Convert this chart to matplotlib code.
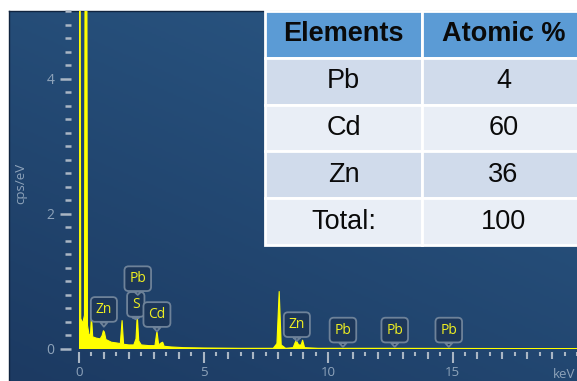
import numpy as np
import matplotlib.pyplot as plt
from matplotlib.colors import LinearSegmentedColormap
from matplotlib.ticker import MultipleLocator

# EDS spectrum (keV, cps/eV), peaks picked off the trace
energy = [0.00, 0.03, 0.07, 0.15, 0.22, 0.26, 0.30, 0.34, 0.40, 0.46, 0.50, 0.55,
          0.70, 0.85, 0.93, 0.98, 1.02, 1.08, 1.30, 1.50, 1.66, 1.73, 1.79, 2.00,
          2.20, 2.29, 2.34, 2.40, 2.50, 2.80, 3.05, 3.13, 3.20, 3.30, 3.36, 3.42,
          3.70, 4.20, 5.00, 6.50, 7.80, 7.95, 8.04, 8.12, 8.30, 8.60, 8.72, 8.82,
          8.92, 8.98, 9.06, 9.60, 12.0, 20.0]
cps = [0.00, 9.00, 0.45, 0.38, 0.50, 9.00, 9.00, 0.35, 0.22, 0.20, 0.50, 0.18,
       0.16, 0.15, 0.20, 0.27, 0.25, 0.14, 0.10, 0.09, 0.08, 0.42, 0.07, 0.06,
       0.06, 0.15, 0.50, 0.12, 0.06, 0.05, 0.05, 0.26, 0.06, 0.09, 0.10, 0.04,
       0.03, 0.02, 0.015, 0.01, 0.01, 0.08, 0.85, 0.06, 0.01, 0.02, 0.13, 0.06,
       0.06, 0.13, 0.02, 0.01, 0.01, 0.005]

# peak markers: element, keV, box centre (cps), pointer tip (cps)
peak_labels = ["Zn", "S", "Pb", "Cd", "Zn", "Pb", "Pb", "Pb"]
label_kev = [1.00, 2.28, 2.36, 3.13, 8.75, 10.60, 12.68, 14.85]
label_box_cps = [0.585, 0.66, 1.04, 0.51, 0.36, 0.28, 0.28, 0.28]
label_tip_cps = [0.33, 0.44, 0.80, 0.26, 0.12, 0.03, 0.03, 0.03]

# quantification table
table_header = ["Elements", "Atomic %"]
table_elements = ["Pb", "Cd", "Zn", "Total:"]
table_atomic = ["4", "60", "36", "100"]

W, H = 577, 381
tick_c = '#aab6c4'
lab_c = '#8ea3ba'
box_fc = '#1d375a'
box_ec = '#6e8299'


def px_rect(x0, y0, x1, y1):
    return [x0 / W, 1 - y1 / H, (x1 - x0) / W, (y1 - y0) / H]


fig = plt.figure(figsize=(W / 100, H / 100), dpi=100)
fig.patch.set_facecolor('white')

# dark blue panel with a soft gradient
bg = fig.add_axes(px_rect(9, 11, 577, 381))
gx, gy = np.meshgrid(np.linspace(0, 1, 200), np.linspace(1, 0, 200))
cmap = LinearSegmentedColormap.from_list('panel', ['#1c3a62', '#2b5986'])
bg.imshow(0.6 * gy + 0.4 * gx, cmap=cmap, aspect='auto', extent=(0, 1, 0, 1),
          vmin=0, vmax=1)
bg.set_xticks([])
bg.set_yticks([])
for s in ['right', 'bottom']:
    bg.spines[s].set_visible(False)
for s in ['left', 'top']:
    bg.spines[s].set_color('#10243f')
    bg.spines[s].set_linewidth(1)

# spectrum
ax = fig.add_axes(px_rect(79, 11, 577, 349))
ax.patch.set_alpha(0)
ax.fill_between(energy, cps, color='#ffff00', lw=0.8, zorder=2)
ax.set_xlim(0, 20.0)
ax.set_ylim(0, 5.0)

for s in ax.spines.values():
    s.set_visible(False)
ax.spines['left'].set_position(('outward', 5.8))
ax.spines['bottom'].set_position(('outward', 2))

ax.yaxis.set_major_locator(MultipleLocator(2))
ax.yaxis.set_minor_locator(MultipleLocator(0.2))
ax.set_xticks([0, 5, 10, 15])
ax.xaxis.set_minor_locator(MultipleLocator(0.5))
ax.tick_params(axis='y', which='major', length=8, width=1.8, color=tick_c,
               pad=4, labelsize=10, labelcolor=lab_c)
ax.tick_params(axis='y', which='minor', length=4.3, width=1.8, color=tick_c)
ax.tick_params(axis='x', which='major', length=8, width=1.5, color=tick_c,
               pad=2.5, labelsize=9.5, labelcolor=lab_c)
ax.tick_params(axis='x', which='minor', length=3, width=1.5, color=tick_c)
for lbl in ax.get_xticklabels() + ax.get_yticklabels():
    lbl.set_family('Open Sans')

# medium ticks at whole keV
axm = ax.twiny()
axm.set_xlim(ax.get_xlim())
axm.xaxis.set_ticks_position('bottom')
for s in axm.spines.values():
    s.set_visible(False)
axm.spines['bottom'].set_position(('outward', 2))
axm.set_xticks([i for i in range(1, 20) if i % 5])
axm.tick_params(axis='x', length=5, width=1.5, color=tick_c,
                labelbottom=False, labeltop=False)

ax.text(19.05, -0.075, 'keV', transform=ax.get_xaxis_transform(),
        ha='left', va='center', color=lab_c, fontsize=9.5, family='Open Sans')
fig.text(21 / W, 1 - 183 / H, 'cps/eV', rotation=90, ha='center', va='center',
         color=lab_c, fontsize=9.5, family='Open Sans')

# element markers with pointer
for name, kev, yb, yt in zip(peak_labels, label_kev, label_box_cps, label_tip_cps):
    ax.annotate(name, xy=(kev, yt), xytext=(kev, yb), textcoords='data',
                ha='center', va='center', fontsize=10, color='#eeee22',
                family='Open Sans', zorder=4, annotation_clip=False,
                bbox=dict(boxstyle='round,pad=0.35,rounding_size=0.3',
                          fc=box_fc, ec=box_ec, lw=1.3),
                arrowprops=dict(arrowstyle='wedge,tail_width=0.5',
                                fc=box_fc, ec=box_ec, lw=1.3,
                                shrinkA=0, shrinkB=0))

# results table
tax = fig.add_axes(px_rect(265, 11, 585, 245))
tax.axis('off')
cell_text = [[e, a] for e, a in zip(table_elements, table_atomic)]
tbl = tax.table(cellText=cell_text, colLabels=table_header, cellLoc='center',
                bbox=[0, 0, 1, 1], colWidths=[157 / 320, 163 / 320])
tbl.auto_set_font_size(False)
row_colors = ['#5b9bd5', '#d0dbeb', '#e9eef6', '#d0dbeb', '#e9eef6']
for (r, c), cell in tbl.get_celld().items():
    cell.set_edgecolor('white')
    cell.set_linewidth(2)
    cell.set_facecolor(row_colors[r])
    txt = cell.get_text()
    txt.set_fontsize(19.5)
    txt.set_family('Liberation Sans')
    txt.set_color('#0a0a0a')
    if r == 0:
        txt.set_fontweight('bold')

fig.savefig('out.png', dpi=100)
